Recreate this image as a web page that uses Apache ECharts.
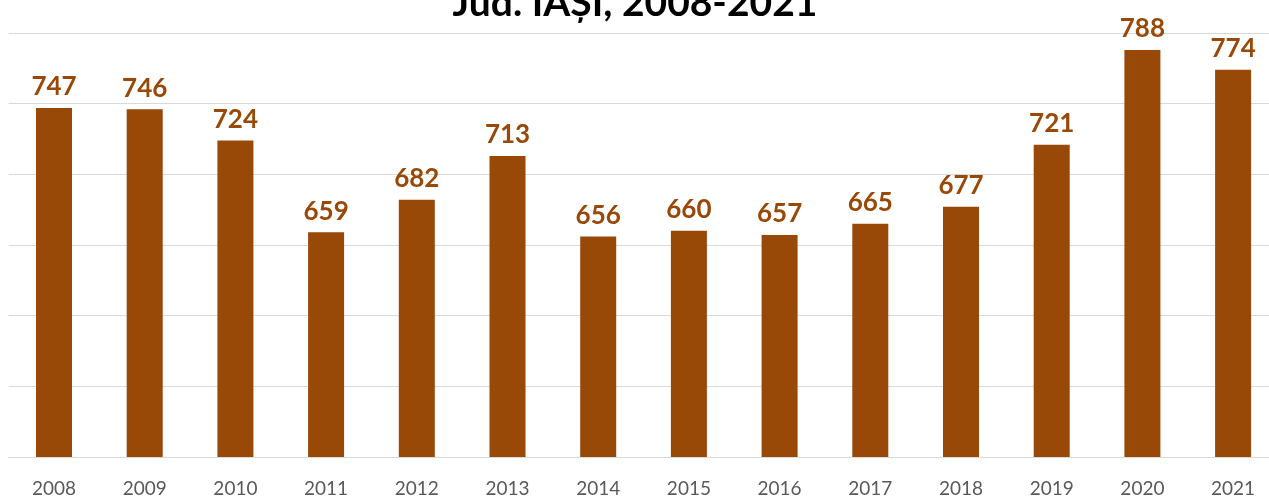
<!DOCTYPE html>
<html><head><meta charset="utf-8">
<script src="https://cdn.jsdelivr.net/npm/echarts@6/dist/echarts.min.js"></script>
<style>html,body{margin:0;padding:0;background:#fff;overflow:hidden}#c{width:1290px;height:498px}</style>
</head><body><div id="c"></div>
<script>
const titleText = 'Jud. IAȘI, 2008-2021';
const years = ['2008','2009','2010','2011','2012','2013','2014','2015','2016','2017','2018','2019','2020','2021'];
const values = [747,746,724,659,682,713,656,660,657,665,677,721,788,774];
const yMin = 500, yMax = 800, yStep = 50;

const chart = echarts.init(document.getElementById('c'), null, {renderer:'canvas'});
chart.setOption({
  animation:false,
  title:{text:titleText, left:630, textAlign:'center', top:-21,
    textStyle:{fontFamily:'Lato', fontWeight:'bold', fontSize:39, color:'#000'}},
  grid:{left:8.65, top:33, width:1269.8, height:426, containLabel:false},
  xAxis:{type:'category', data:years,
    axisLine:{show:true, lineStyle:{color:'#d9d9d9', width:1}},
    axisTick:{show:false},
    axisLabel:{color:'#595959', fontFamily:'Lato', fontSize:19, margin:22}},
  yAxis:{type:'value', min:yMin, max:yMax, interval:yStep,
    axisLabel:{show:false}, axisLine:{show:false}, axisTick:{show:false},
    splitLine:{lineStyle:{color:'#d9d9d9', width:1}}},
  series:[{type:'bar', data:values, barWidth:36,
    itemStyle:{color:'#984807'},
    label:{show:true, position:'top', distance:8, color:'#984807',
      fontFamily:'Lato', fontWeight:'bold', fontSize:26}}]
});
</script></body></html>
